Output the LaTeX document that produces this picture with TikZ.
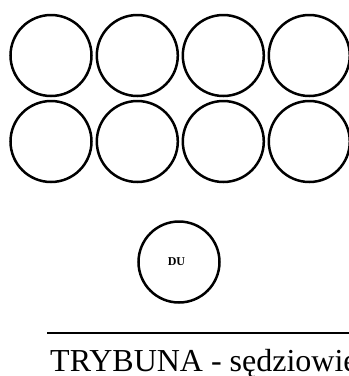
\documentclass[tikz,border=0pt]{standalone}
\usepackage{fontspec}
\setmainfont{Liberation Serif}
\usetikzlibrary{positioning}
\tikzset{
  seat/.style={draw=black, line width=2.5pt, circle, minimum size=81pt, inner sep=0pt},
  judge/.style={seat, font=\fontsize{12}{12}\selectfont\bfseries}
}

\begin{document}
\begin{tikzpicture}[x=1pt, y=-1pt]
  \useasboundingbox (0,0) rectangle (349,376);
  \clip (0,0) rectangle (349,376);
  \node[seat] (a1) at (51,55.5) {};
  \node[seat] (a2) at (137.3,55.5) {};
  \node[seat] (a3) at (223.3,55.5) {};
  \node[seat] (a4) at (309.3,55.5) {};
  \node[seat] (b1) at (51,141.5) {};
  \node[seat] (b2) at (137.3,141.5) {};
  \node[seat] (b3) at (223.3,141.5) {};
  \node[seat] (b4) at (309.3,141.5) {};
  \node[judge] (du) at (179,262) {\hspace*{-5pt}DU};
  \coordinate (tl) at (47,333);
  \coordinate (tr) at (352,333);
  \draw[black, line width=1.3pt] (tl) -- (tr);
  \node[anchor=base west, inner sep=0pt, font=\fontsize{32}{32}\selectfont] (tryb) at (50,371) {TRYBUNA - sędziowie};
\end{tikzpicture}
\end{document}
